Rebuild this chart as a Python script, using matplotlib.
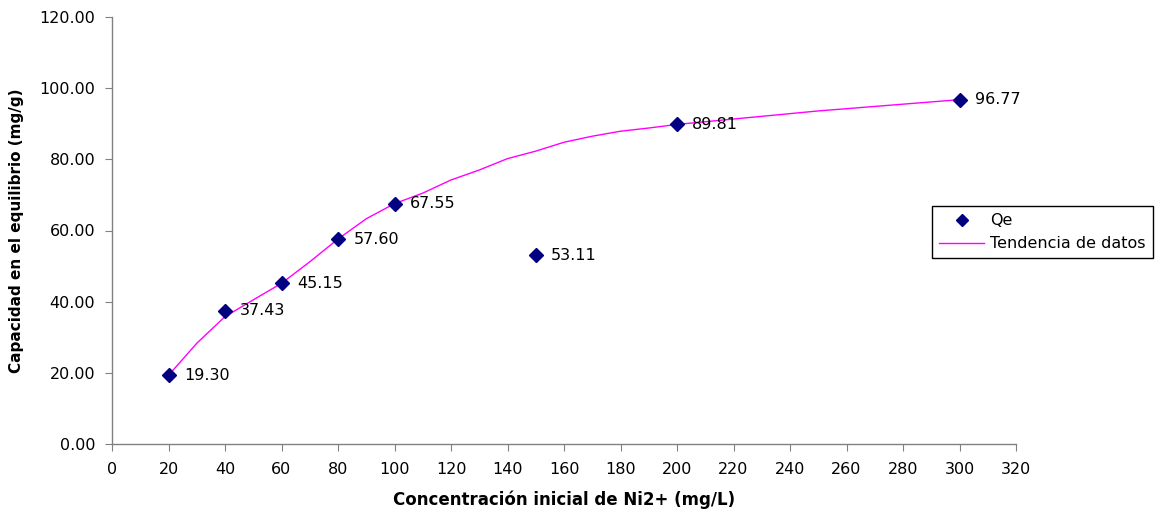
import matplotlib.pyplot as plt

# Datos experimentales: concentración inicial vs capacidad en el equilibrio
concentracion = [20, 40, 60, 80, 100, 150, 200, 300]
qe = [19.30, 37.43, 45.15, 57.60, 67.55, 53.11, 89.81, 96.77]

# Curva de tendencia trazada a mano sobre los datos
tend_x = [20, 30, 40, 50, 60, 70, 80, 90, 100, 110, 120, 130, 140, 150,
          160, 170, 180, 190, 200, 250, 300]
tend_y = [19.30, 28.3, 35.8, 40.5, 45.15, 51.2, 57.60, 63.3, 67.55, 70.5,
          74.2, 77.0, 80.2, 82.3, 84.8, 86.5, 87.9, 88.8, 89.81, 93.6, 96.77]

plt.rcParams['font.family'] = ['DejaVu Sans']

fig = plt.figure(figsize=(11.58, 5.18), dpi=100)
ax = fig.add_axes([112 / 1158, 74 / 518, 904 / 1158, 427 / 518])

ax.plot(tend_x, tend_y, color='#FF00FF', linewidth=1, label='Tendencia de datos', zorder=2)
ax.plot(concentracion, qe, linestyle='none', marker='D', markersize=7.5,
        color='#000080', label='Qe', zorder=3)

# Etiquetas de valor a la derecha de cada punto
for x, y in zip(concentracion, qe):
    ax.annotate(f'{y:.2f}', (x, y), xytext=(11, 0), textcoords='offset points',
                va='center', ha='left', fontsize=11.5)

ax.set_xlim(0, 320)
ax.set_ylim(0, 120)
ax.set_xticks(range(0, 321, 20))
ax.set_yticks(range(0, 121, 20))
ax.yaxis.set_major_formatter(plt.FuncFormatter(lambda v, p: f'{v:.2f}'))

for lado in ['top', 'right']:
    ax.spines[lado].set_visible(False)
for lado in ['left', 'bottom']:
    ax.spines[lado].set_color('#808080')
    ax.spines[lado].set_linewidth(1)
ax.tick_params(axis='both', direction='out', length=5, color='#808080', labelsize=11.5)
ax.tick_params(axis='x', pad=8)
ax.tick_params(axis='y', pad=7)

ax.set_xlabel('Concentración inicial de Ni2+ (mg/L)', fontsize=12, fontweight='bold', labelpad=10)
ax.set_ylabel('Capacidad en el equilibrio (mg/g)', fontsize=11, fontweight='bold', labelpad=11)

handles, labels = ax.get_legend_handles_labels()
leg = fig.legend(handles[::-1], labels[::-1], loc='upper left',
                 bbox_to_anchor=(932 / 1158, 1 - 206 / 518), fontsize=11.5,
                 fancybox=False, shadow=False, framealpha=1, borderaxespad=0,
                 handlelength=2.8, handletextpad=0.4, borderpad=0.45,
                 labelspacing=0.5, markerscale=0.75)
leg.get_frame().set_edgecolor('black')
leg.get_frame().set_linewidth(1)

plt.savefig('out.png', dpi=100)
